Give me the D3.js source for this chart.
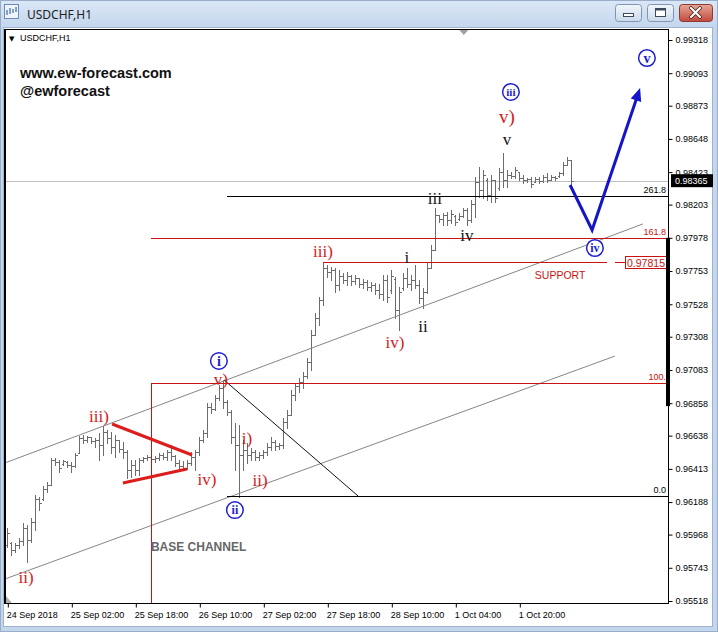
<!DOCTYPE html>
<html><head><meta charset="utf-8">
<script src="https://cdn.jsdelivr.net/npm/d3@7/dist/d3.min.js"></script>
<style>body{margin:0;background:#c3d6ed;overflow:hidden}svg{display:block}</style>
</head><body>
<svg id="c" width="718" height="632"></svg>
<script>
// ---------- DATA ----------
const opens=[0.95898,0.95912,0.95864,0.95898,0.95925,0.96013,0.95932,0.96053,0.96209,0.96209,0.96277,0.96304,0.96473,0.96459,0.96446,0.96459,0.96439,0.96432,0.96521,0.96622,0.96609,0.96629,0.96602,0.96609,0.96575,0.96663,0.96622,0.96562,0.96609,0.96548,0.96528,0.96406,0.96439,0.96406,0.96473,0.96487,0.96494,0.96480,0.96487,0.96507,0.96494,0.96528,0.96500,0.96453,0.96432,0.96419,0.96453,0.96494,0.96528,0.96609,0.96656,0.96833,0.96819,0.96894,0.96961,0.96866,0.96798,0.96629,0.96575,0.96507,0.96541,0.96507,0.96528,0.96494,0.96507,0.96528,0.96562,0.96595,0.96568,0.96575,0.96731,0.96778,0.96914,0.96975,0.97002,0.97042,0.97137,0.97320,0.97435,0.97557,0.97774,0.97747,0.97760,0.97658,0.97720,0.97692,0.97720,0.97685,0.97706,0.97665,0.97679,0.97645,0.97658,0.97625,0.97598,0.97692,0.97625,0.97699,0.97489,0.97638,0.97706,0.97665,0.97692,0.97658,0.97571,0.97611,0.97774,0.97896,0.98133,0.98106,0.98133,0.98099,0.98126,0.98106,0.98126,0.98166,0.98099,0.98207,0.98356,0.98302,0.98370,0.98268,0.98370,0.98315,0.98424,0.98370,0.98404,0.98397,0.98424,0.98383,0.98370,0.98376,0.98356,0.98376,0.98363,0.98390,0.98370,0.98390,0.98397,0.98417,0.98471,0.98505];
const highs=[0.96013,0.95918,0.95912,0.95945,0.96047,0.96033,0.96081,0.96236,0.96222,0.96297,0.96324,0.96487,0.96487,0.96473,0.96473,0.96466,0.96459,0.96521,0.96636,0.96643,0.96636,0.96629,0.96622,0.96656,0.96703,0.96677,0.96663,0.96643,0.96609,0.96595,0.96541,0.96473,0.96473,0.96487,0.96494,0.96507,0.96507,0.96500,0.96521,0.96521,0.96541,0.96575,0.96507,0.96473,0.96466,0.96473,0.96528,0.96541,0.96629,0.96677,0.96860,0.96860,0.96914,0.96981,0.97015,0.96880,0.96812,0.96724,0.96710,0.96609,0.96589,0.96555,0.96541,0.96528,0.96541,0.96589,0.96629,0.96609,0.96589,0.96758,0.96812,0.96948,0.96995,0.97029,0.97069,0.97164,0.97354,0.97469,0.97578,0.97814,0.97794,0.97781,0.97774,0.97760,0.97740,0.97747,0.97726,0.97726,0.97706,0.97699,0.97692,0.97679,0.97672,0.97665,0.97726,0.97726,0.97760,0.97713,0.97645,0.97740,0.97774,0.97726,0.97794,0.97692,0.97638,0.97808,0.97929,0.98180,0.98133,0.98146,0.98153,0.98166,0.98133,0.98146,0.98180,0.98180,0.98234,0.98390,0.98458,0.98437,0.98383,0.98404,0.98370,0.98451,0.98553,0.98437,0.98424,0.98458,0.98424,0.98404,0.98383,0.98390,0.98390,0.98390,0.98404,0.98417,0.98404,0.98397,0.98424,0.98492,0.98526,0.98505];
const lows=[0.95885,0.95830,0.95850,0.95878,0.95898,0.95782,0.95918,0.95999,0.96135,0.96202,0.96256,0.96304,0.96439,0.96392,0.96439,0.96426,0.96392,0.96426,0.96521,0.96589,0.96595,0.96589,0.96562,0.96473,0.96507,0.96589,0.96521,0.96494,0.96528,0.96487,0.96351,0.96358,0.96372,0.96372,0.96459,0.96473,0.96466,0.96459,0.96473,0.96480,0.96473,0.96473,0.96432,0.96406,0.96406,0.96412,0.96439,0.96406,0.96507,0.96595,0.96629,0.96792,0.96812,0.96880,0.96826,0.96778,0.96589,0.96406,0.96222,0.96406,0.96453,0.96473,0.96473,0.96473,0.96487,0.96507,0.96541,0.96541,0.96548,0.96555,0.96690,0.96778,0.96880,0.96934,0.96961,0.97029,0.97083,0.97320,0.97388,0.97523,0.97713,0.97692,0.97611,0.97625,0.97672,0.97658,0.97658,0.97665,0.97645,0.97638,0.97625,0.97618,0.97598,0.97571,0.97557,0.97544,0.97604,0.97435,0.97354,0.97625,0.97645,0.97625,0.97638,0.97537,0.97503,0.97604,0.97774,0.97896,0.98085,0.98065,0.98065,0.98079,0.98065,0.98099,0.98119,0.98065,0.98085,0.98119,0.98255,0.98248,0.98234,0.98221,0.98221,0.98302,0.98322,0.98322,0.98383,0.98383,0.98370,0.98349,0.98356,0.98322,0.98356,0.98349,0.98356,0.98356,0.98370,0.98370,0.98390,0.98404,0.98471,0.98322];
const closes=[0.95979,0.95864,0.95898,0.95925,0.96013,0.95932,0.96053,0.96209,0.96182,0.96277,0.96304,0.96473,0.96459,0.96419,0.96466,0.96439,0.96432,0.96507,0.96622,0.96609,0.96629,0.96602,0.96609,0.96575,0.96663,0.96622,0.96562,0.96609,0.96548,0.96528,0.96406,0.96439,0.96406,0.96473,0.96487,0.96494,0.96480,0.96487,0.96507,0.96494,0.96528,0.96500,0.96453,0.96432,0.96419,0.96453,0.96494,0.96528,0.96609,0.96656,0.96833,0.96819,0.96894,0.96961,0.96866,0.96798,0.96629,0.96575,0.96507,0.96541,0.96507,0.96528,0.96494,0.96507,0.96528,0.96562,0.96595,0.96568,0.96575,0.96731,0.96778,0.96914,0.96975,0.97002,0.97042,0.97137,0.97320,0.97435,0.97557,0.97774,0.97747,0.97760,0.97658,0.97720,0.97692,0.97720,0.97685,0.97706,0.97665,0.97679,0.97645,0.97658,0.97625,0.97598,0.97692,0.97578,0.97720,0.97489,0.97611,0.97706,0.97665,0.97692,0.97658,0.97571,0.97611,0.97774,0.97896,0.98133,0.98106,0.98133,0.98099,0.98139,0.98085,0.98126,0.98166,0.98099,0.98207,0.98356,0.98302,0.98404,0.98268,0.98370,0.98248,0.98424,0.98370,0.98404,0.98397,0.98437,0.98383,0.98370,0.98376,0.98343,0.98376,0.98363,0.98390,0.98370,0.98390,0.98383,0.98417,0.98471,0.98505,0.98365];

const timeTickBars=[0,16,32,48,64,80,96,112,128];
const timeTickLabels=["24 Sep 2018","25 Sep 02:00","25 Sep 18:00","26 Sep 10:00","27 Sep 02:00","27 Sep 18:00","28 Sep 10:00","1 Oct 04:00","1 Oct 20:00"];
const priceTicks=[0.99318,0.99093,0.98873,0.98648,0.98423,0.98203,0.97978,0.97753,0.97528,0.97308,0.97083,0.96858,0.96638,0.96413,0.96188,0.95968,0.95743,0.95518];
const lastPrice=0.98365;
const supportPrice=0.97815;
const supportStartBar=79, supportEndBar=149.9;
const fibBlackLabels=["261.8","0.0"], fibBlackPrices=[0.98261,0.96229], fibBlackStart=55;
const fibRedLabels=["161.8","100.0"], fibRedPrices=[0.97974,0.96998], fibRedStart=36;
// trend lines: [bar1, price1, bar2, price2]
const channelUpper=[-0.6,0.96453,158.9,0.98072];
const channelLower=[-0.6,0.95667,151.9,0.97177];
const diagLine=[54.2,0.97015,87.7,0.96229];
const triUpper=[26.2,0.96717,46.2,0.96507];
const triLower=[28.9,0.96317,44.9,0.96412];
const blueBars=[140.7,146.2,158.2], bluePrices=[0.98336,0.98031,0.98993];
// wave labels
const redText=["ii)","iii)","iv)","v)","i)","ii)","iii)","iv)","v)"];
const redBars=[4.7,22.9,49.9,53.4,59.9,63.2,78.9,96.9,124.9];
const redPrices=[0.95680,0.96771,0.96344,0.97022,0.96622,0.96338,0.97889,0.97272,0.98803];
const blackText=["i","ii","iii","iv","v"];
const blackBars=[99.9,103.9,106.9,114.9,124.9];
const blackPrices=[0.97841,0.97374,0.98241,0.97990,0.98641];
const circText=["i","ii","iii","iv","v"];
const circBars=[52.9,56.9,125.9,146.9,159.9];
const circPrices=[0.97144,0.96134,0.98966,0.97909,0.99196];
const supportLabelBar=138.2, supportLabelPrice=0.97726;
const baseChannelBar=35.9, baseChannelPrice=0.95884;

// ---------- DRAW ----------
const W=718,H=632;
const RED="#cc1111", BLUE="#1414c8";
const svg=d3.select("#c");
const defs=svg.append("defs");
function grad(id,c1,c2){const g=defs.append("linearGradient").attr("id",id).attr("x1",0).attr("y1",0).attr("x2",0).attr("y2",1);
 g.append("stop").attr("offset","0").attr("stop-color",c1);g.append("stop").attr("offset","1").attr("stop-color",c2);}
grad("tb","#dbe7f5","#c4d7ee");grad("btn","#f2f6fb","#ccd9ea");grad("cls","#e8a795","#c2493b");

svg.append("rect").attr("width",W).attr("height",H).attr("fill","#c3d6ed");
svg.append("rect").attr("width",W).attr("height",27).attr("fill","url(#tb)");
svg.append("rect").attr("x",0.5).attr("y",0.5).attr("width",W-1).attr("height",H-1).attr("fill","none").attr("stroke","#98aecb");
const ic=svg.append("g");
ic.append("rect").attr("x",4.5).attr("y",4.5).attr("width",14).attr("height",14).attr("fill","#eef4fb").attr("stroke","#6a8bb5");
ic.append("path").attr("d","M7,15 L7,10 M10,14 L10,8 M13,13 L13,9 M16,12 L16,7").attr("stroke","#3a6cb0").attr("stroke-width",1.2);
svg.append("text").attr("x",27).attr("y",19).attr("font-family","Noto Sans, sans-serif").attr("font-size",12).attr("fill","#1e1e1e").text("USDCHF,H1");
function btn(x,w,fill,stroke){svg.append("rect").attr("x",x+0.5).attr("y",4.5).attr("width",w).attr("height",17).attr("rx",3).attr("fill",fill).attr("stroke",stroke);}
btn(615,26,"url(#btn)","#7f95b4");btn(647,26,"url(#btn)","#7f95b4");btn(679,33,"url(#cls)","#8b3b2f");
svg.append("rect").attr("x",623.5).attr("y",13.5).attr("width",10).attr("height",3).attr("fill","#fff").attr("stroke","#3c4a5e");
svg.append("rect").attr("x",655.5).attr("y",8.5).attr("width",10).attr("height",8).attr("fill","#fff").attr("stroke","#3c4a5e");
svg.append("rect").attr("x",655.5).attr("y",8.5).attr("width",10).attr("height",2).attr("fill","#3c4a5e");
svg.append("path").attr("d","M691,8 L700,17 M700,8 L691,17").attr("stroke","#3a1a14").attr("stroke-width",3.6).attr("stroke-linecap","round");
svg.append("path").attr("d","M691,8 L700,17 M700,8 L691,17").attr("stroke","#fff").attr("stroke-width",2.2).attr("stroke-linecap","round");

svg.append("rect").attr("x",3.5).attr("y",27.5).attr("width",709).attr("height",599).attr("fill","#fff").attr("stroke","#9fb3cc");

const X0=5,X1=668,Y0=29,Y1=603;
const x=d3.scaleLinear().domain([0,141]).range([7.3,571.3]);
const y=d3.scaleLinear().domain([0.95518,0.99318]).range([601,40]);
defs.append("clipPath").attr("id","plot").append("rect").attr("x",X0).attr("y",Y0).attr("width",X1-X0).attr("height",Y1-Y0);
const plot=svg.append("g").attr("clip-path","url(#plot)");
const sn=v=>Math.round(v)+0.5;

plot.append("line").attr("x1",X0).attr("x2",X1).attr("y1",sn(y(lastPrice))).attr("y2",sn(y(lastPrice))).attr("stroke","#c0c0c0");

const bars=plot.append("g").attr("stroke","#6c6c6c").attr("stroke-width",1).attr("shape-rendering","crispEdges");
d3.range(opens.length).forEach(i=>{
  const cx=sn(x(i));
  bars.append("line").attr("x1",cx).attr("x2",cx).attr("y1",y(highs[i])).attr("y2",y(lows[i])+1);
  bars.append("line").attr("x1",cx-2).attr("x2",cx).attr("y1",sn(y(opens[i]))).attr("y2",sn(y(opens[i])));
  bars.append("line").attr("x1",cx).attr("x2",cx+2).attr("y1",sn(y(closes[i]))).attr("y2",sn(y(closes[i])));
});

const seg=(a,col,w)=>plot.append("line").attr("x1",x(a[0])).attr("y1",y(a[1])).attr("x2",x(a[2])).attr("y2",y(a[3])).attr("stroke",col).attr("stroke-width",w);
seg(channelUpper,"#868686",1);
seg(channelLower,"#868686",1);
seg(diagLine,"#111",1);

const sans="Liberation Sans, Arial, sans-serif";
fibBlackPrices.forEach((p,k)=>{
  plot.append("line").attr("x1",x(fibBlackStart)).attr("x2",X1).attr("y1",sn(y(p))).attr("y2",sn(y(p))).attr("stroke","#000").attr("shape-rendering","crispEdges");
  plot.append("text").attr("x",X1-2).attr("y",y(p)-3).attr("text-anchor","end").attr("font-family",sans).attr("font-size",9).attr("fill","#000").text(fibBlackLabels[k]);
});
fibRedPrices.forEach((p,k)=>{
  plot.append("line").attr("x1",x(fibRedStart)).attr("x2",X1).attr("y1",sn(y(p))).attr("y2",sn(y(p))).attr("stroke",RED).attr("shape-rendering","crispEdges");
  plot.append("text").attr("x",k===1?X1+3:X1-2).attr("y",y(p)-3).attr("text-anchor","end").attr("font-family",sans).attr("font-size",9).attr("fill",RED).text(fibRedLabels[k]);
});
plot.append("line").attr("x1",sn(x(fibRedStart))).attr("x2",sn(x(fibRedStart))).attr("y1",sn(y(fibRedPrices[1]))).attr("y2",Y1).attr("stroke",RED).attr("shape-rendering","crispEdges");

const sy=sn(y(supportPrice));
plot.append("line").attr("x1",x(supportStartBar)).attr("x2",x(supportEndBar)).attr("y1",sy).attr("y2",sy).attr("stroke",RED).attr("shape-rendering","crispEdges");
plot.append("line").attr("x1",X1-53).attr("x2",X1-42).attr("y1",sy).attr("y2",sy).attr("stroke",RED).attr("shape-rendering","crispEdges");
plot.append("rect").attr("x",X1-42.5).attr("y",sy-6).attr("width",41).attr("height",12).attr("fill","#fff").attr("stroke",RED).attr("shape-rendering","crispEdges");
plot.append("text").attr("x",X1-22).attr("y",sy+4).attr("text-anchor","middle").attr("font-family",sans).attr("font-size",10.5).attr("fill",RED).text(supportPrice.toFixed(5));

seg(triUpper,"#dd1c1c",3);
seg(triLower,"#dd1c1c",3);

const bpts=blueBars.map((b,k)=>[x(b),y(bluePrices[k])]);
const n=bpts.length, pa=bpts[n-2], pb=bpts[n-1];
const ang=Math.atan2(pb[1]-pa[1],pb[0]-pa[0]);
const hl=13, hw=5.5;
const base=[pb[0]-hl*Math.cos(ang),pb[1]-hl*Math.sin(ang)];
const lineEnd=[pb[0]-(hl-3)*Math.cos(ang),pb[1]-(hl-3)*Math.sin(ang)];
plot.append("path").attr("d",d3.line()([...bpts.slice(0,n-1),lineEnd])).attr("fill","none").attr("stroke",BLUE).attr("stroke-width",3).attr("stroke-linejoin","miter");
plot.append("path").attr("d",`M${pb[0]},${pb[1]} L${base[0]+hw*Math.sin(ang)},${base[1]-hw*Math.cos(ang)} L${base[0]-hw*Math.sin(ang)},${base[1]+hw*Math.cos(ang)} Z`).attr("fill",BLUE);

const serif="Liberation Serif, Times New Roman, serif";
redText.forEach((t,k)=>{
  plot.append("text").attr("x",x(redBars[k])).attr("y",y(redPrices[k])).attr("dy","0.35em").attr("text-anchor","middle")
   .attr("font-family",serif).attr("font-size",k===8?19:17).attr("fill","#d41a1a").text(t);
});
blackText.forEach((t,k)=>{
  plot.append("text").attr("x",x(blackBars[k])).attr("y",y(blackPrices[k])).attr("dy","0.3em").attr("text-anchor","middle")
   .attr("font-family",serif).attr("font-size",17).attr("fill","#111").text(t);
});
circText.forEach((t,k)=>{
  const cx=x(circBars[k]), cy=y(circPrices[k]);
  plot.append("circle").attr("cx",cx).attr("cy",cy).attr("r",8.3).attr("fill","#fff").attr("stroke","#1e1ed0").attr("stroke-width",1.5);
  plot.append("text").attr("x",cx).attr("y",cy).attr("dy","0.34em").attr("text-anchor","middle").attr("font-family",serif)
   .attr("font-weight","bold").attr("font-size",t.length>2?11:(t.length>1?12:14)).attr("fill","#1e1ed0").text(t);
});
plot.append("text").attr("x",x(supportLabelBar)).attr("y",y(supportLabelPrice)).attr("dy","0.35em").attr("text-anchor","middle")
 .attr("font-family",sans).attr("font-size",10.5).attr("fill",RED).text("SUPPORT");
plot.append("text").attr("x",x(baseChannelBar)).attr("y",y(baseChannelPrice)).attr("dy","0.35em")
 .attr("font-family",sans).attr("font-weight","bold").attr("font-size",12).attr("fill","#666").text("BASE CHANNEL");

plot.append("text").attr("x",20).attr("y",78).attr("font-family",sans).attr("font-weight","bold").attr("font-size",14.5).attr("fill","#111").text("www.ew-forecast.com");
plot.append("text").attr("x",20).attr("y",96).attr("font-family",sans).attr("font-weight","bold").attr("font-size",14.5).attr("fill","#111").text("@ewforecast");
plot.append("text").attr("x",9).attr("y",41).attr("font-family","DejaVu Sans, sans-serif").attr("font-size",7).attr("fill","#000").text("▼");
plot.append("text").attr("x",20).attr("y",41).attr("font-family",sans).attr("font-size",9).attr("fill","#000").text("USDCHF,H1");
plot.append("path").attr("d",`M${x(113)},${Y0+1} l9,0 l-4.5,5 z`).attr("fill","#a0a0a0");
plot.append("path").attr("d",`M${X0+1},${Y1-7} l0,7 l6,0 z`).attr("fill","#b0b0b0");

svg.append("rect").attr("x",X0-0.5).attr("y",Y0+0.5).attr("width",X1-X0+0.5).attr("height",Y1-Y0).attr("fill","none").attr("stroke","#000").attr("shape-rendering","crispEdges");
svg.append("line").attr("x1",X0).attr("x2",X0).attr("y1",Y0).attr("y2",Y1).attr("stroke","#000").attr("stroke-width",2);
svg.append("line").attr("x1",X1).attr("x2",X1).attr("y1",y(0.97978)).attr("y2",y(0.96838)).attr("stroke","#000").attr("stroke-width",4);

const yAx=svg.append("g").attr("transform",`translate(${X1+0.5},0)`).call(d3.axisRight(y).tickValues(priceTicks).tickSize(4).tickPadding(3).tickFormat(d3.format(".5f")));
yAx.select(".domain").remove();
yAx.selectAll("text").attr("font-family",sans).attr("font-size",9).attr("fill","#000");
yAx.selectAll("line").attr("stroke","#000");
const xAx=svg.append("g").attr("transform",`translate(0,${Y1+0.5})`).call(d3.axisBottom(x).tickValues(timeTickBars).tickSize(4).tickPadding(4).tickFormat((d,k)=>timeTickLabels[k]));
xAx.select(".domain").remove();
xAx.selectAll(".tick line").attr("transform","translate(0.5,0)").attr("stroke","#000");
xAx.selectAll("text").attr("text-anchor","start").attr("dx",-1).attr("font-family",sans).attr("font-size",9).attr("fill","#000");

const ly=y(lastPrice);
svg.append("rect").attr("x",X1+3).attr("y",ly-6.5).attr("width",42).attr("height",13).attr("fill","#000");
svg.append("text").attr("x",X1+7).attr("y",ly).attr("dy","0.35em").attr("font-family",sans).attr("font-size",9).attr("fill","#fff").text(lastPrice.toFixed(5));
</script>
</body></html>
